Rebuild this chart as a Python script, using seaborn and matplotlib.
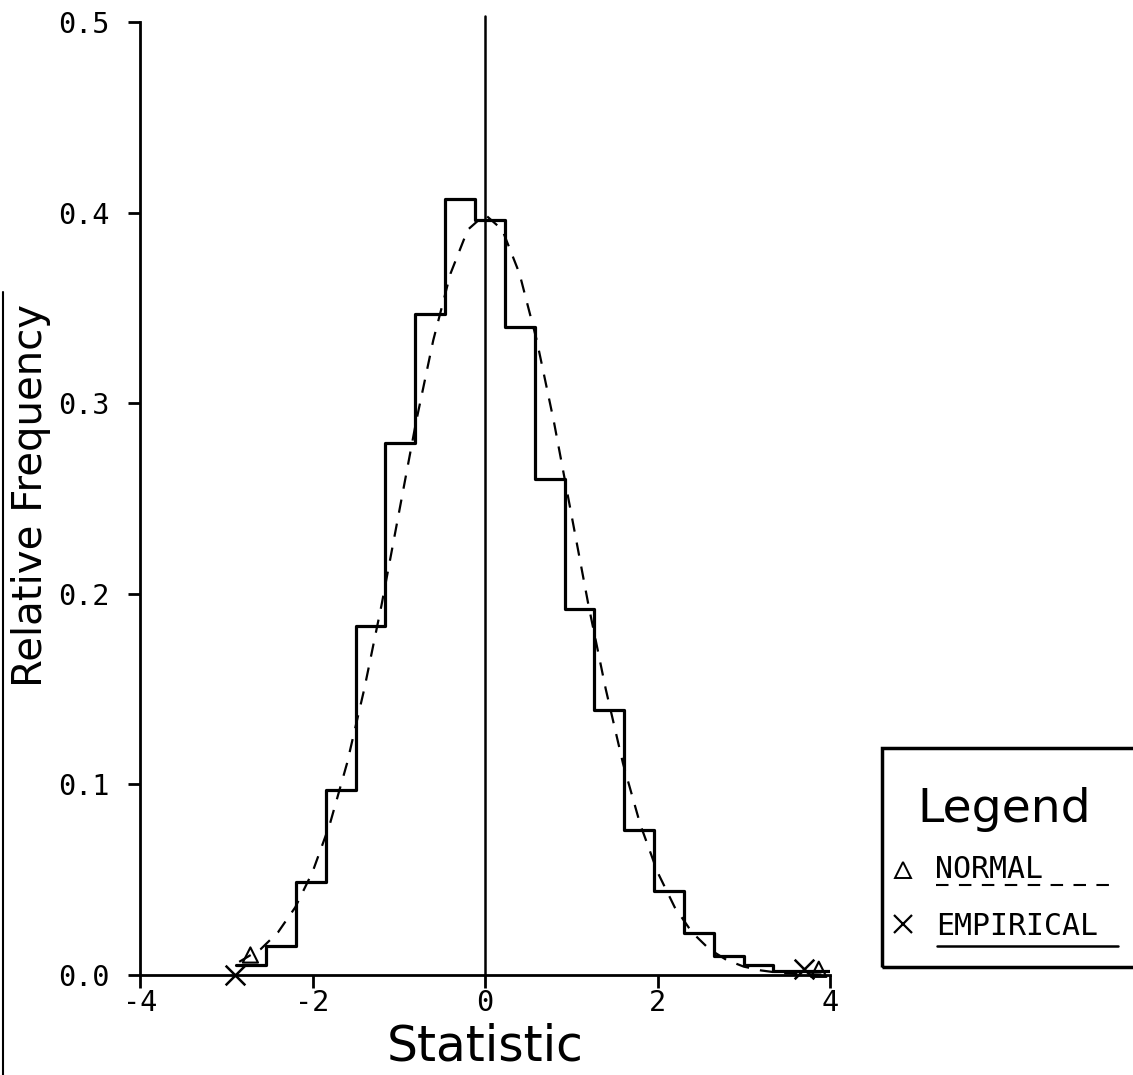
import matplotlib
matplotlib.use("Agg")
import matplotlib.pyplot as plt
import seaborn as sns
from matplotlib.lines import Line2D
from matplotlib.patches import Rectangle

# ---- data ----
BIN_EDGES = [-2.884, -2.538, -2.192, -1.846, -1.500, -1.154, -0.808, -0.462,
             -0.116, 0.230, 0.576, 0.922, 1.268, 1.614, 1.960, 2.306, 2.652,
             2.998, 3.344, 3.690, 4.036]
REL_FREQ = [0.005, 0.015, 0.049, 0.097, 0.183, 0.279, 0.347, 0.407, 0.396,
            0.340, 0.260, 0.192, 0.139, 0.076, 0.044, 0.022, 0.010, 0.005,
            0.002, 0.002]

NORMAL_X = [-2.85, -2.6, -2.4, -2.2, -2.0, -1.8, -1.6, -1.4, -1.2, -1.0, -0.8,
            -0.6, -0.4, -0.2, 0.0, 0.2, 0.4, 0.6, 0.8, 1.0, 1.2, 1.4, 1.6, 1.8,
            2.0, 2.2, 2.4, 2.6, 2.8, 3.0, 3.2, 3.4, 3.6, 3.9]
NORMAL_Y = [0.0069, 0.0136, 0.0224, 0.0355, 0.054, 0.079, 0.111, 0.150, 0.194,
            0.242, 0.290, 0.333, 0.368, 0.391, 0.399, 0.391, 0.368, 0.333,
            0.290, 0.242, 0.194, 0.150, 0.111, 0.079, 0.054, 0.0355, 0.0224,
            0.0136, 0.0079, 0.0044, 0.0024, 0.0012, 0.0006, 0.0002]

NORMAL_MARK_X = [-2.72, 3.87]
NORMAL_MARK_Y = [0.0105, 0.003]
EMP_MARK_X = [-2.9, 3.7]
EMP_MARK_Y = [0.0, 0.003]

X_TICKS = [-4, -2, 0, 2, 4]
X_TICK_LABELS = ["-4", "-2", "0", "2", "4"]
Y_TICKS = [0.0, 0.1, 0.2, 0.3, 0.4, 0.5]
Y_TICK_LABELS = ["0.0", "0.1", "0.2", "0.3", "0.4", "0.5"]

sns.set_theme(style="ticks")
plt.rcParams["font.family"] = ["DejaVu Sans"]
plt.rcParams["axes.unicode_minus"] = False
plt.rcParams["text.color"] = "black"
plt.rcParams["axes.labelcolor"] = "black"

W, H = 1133, 1075
fig = plt.figure(figsize=(W / 100, H / 100), dpi=100)
fig.patch.set_facecolor("white")
ax = fig.add_axes([140 / W, 1 - 975 / H, 690 / W, 953 / H])
ax.set_facecolor("white")

centers = [(a + b) / 2 for a, b in zip(BIN_EDGES[:-1], BIN_EDGES[1:])]
sns.histplot(x=centers, weights=REL_FREQ, bins=BIN_EDGES, element="step",
             fill=False, color="black", linewidth=2.3, ax=ax)
sns.lineplot(x=NORMAL_X, y=NORMAL_Y, color="black", linewidth=1.6,
             linestyle=(0, (6, 5)), ax=ax)
sns.scatterplot(x=NORMAL_MARK_X, y=NORMAL_MARK_Y, marker="^", s=120,
                facecolor="none", edgecolor="black", linewidth=1.5, ax=ax,
                clip_on=False, zorder=5)
sns.scatterplot(x=EMP_MARK_X, y=EMP_MARK_Y, marker="x", s=200, color="black",
                linewidth=1.8, ax=ax, clip_on=False, zorder=5)

ax.axvline(0, ymin=0, ymax=1.006, color="black", linewidth=1.8, clip_on=False)

ax.set_xlim(-4, 4)
ax.set_ylim(0, 0.5)
ax.set_xticks(X_TICKS)
ax.set_xticklabels(X_TICK_LABELS, family="DejaVu Sans Mono")
ax.set_yticks(Y_TICKS)
ax.set_yticklabels(Y_TICK_LABELS, family="DejaVu Sans Mono")
for s in ["top", "right"]:
    ax.spines[s].set_visible(False)
for s in ["left", "bottom"]:
    ax.spines[s].set_linewidth(2.0)
    ax.spines[s].set_color("black")
ax.tick_params(axis="both", direction="out", length=9, width=2.0,
               colors="black", labelsize=20.5)
ax.tick_params(axis="y", pad=13)
ax.tick_params(axis="x", pad=1)

ax.set_xlabel("Statistic", fontsize=35, color="black")
ax.set_ylabel("Relative Frequency", fontsize=29, color="black")
ax.xaxis.set_label_coords(0.5, -0.05)
ax.yaxis.label.set_va("center")
ax.yaxis.set_label_coords((31 - 140) / 690, (975 - 495) / 953)

# ---- legend box (drawn by hand, figure coordinates) ----
def fx(px):
    return px / W

def fy(py):
    return 1 - py / H

fig.patches.append(Rectangle((fx(882), fy(967)), fx(1150) - fx(882),
                             fy(748) - fy(967), transform=fig.transFigure,
                             fill=False, edgecolor="black", linewidth=2.5))
fig.text(fx(917), fy(822), "Legend", fontsize=34, va="baseline", ha="left",
         color="black")
fig.text(fx(935), fy(878), "NORMAL", fontsize=21.5, va="baseline", ha="left",
         family="DejaVu Sans Mono", color="black")
fig.text(fx(936), fy(935), "EMPIRICAL", fontsize=21.5, va="baseline",
         ha="left", family="DejaVu Sans Mono", color="black")
fig.lines.append(Line2D([fx(903)], [fy(870)], transform=fig.transFigure,
                        marker="^", markersize=12, markerfacecolor="none",
                        markeredgecolor="black", markeredgewidth=1.4,
                        linestyle="none"))
fig.lines.append(Line2D([fx(903)], [fy(924)], transform=fig.transFigure,
                        marker="x", markersize=13, color="black",
                        markeredgewidth=1.6, linestyle="none"))
fig.lines.append(Line2D([fx(936), fx(1112)], [fy(885), fy(885)],
                        transform=fig.transFigure, color="black",
                        linewidth=1.5, linestyle=(0, (6, 5))))
fig.lines.append(Line2D([fx(937), fx(1118)], [fy(946), fy(946)],
                        transform=fig.transFigure, color="black",
                        linewidth=1.8))

# scan edge at far left
fig.lines.append(Line2D([fx(3), fx(3)], [fy(292), fy(1075)],
                        transform=fig.transFigure, color="black",
                        linewidth=1.5))

fig.savefig("out.png", dpi=100, facecolor="white")
